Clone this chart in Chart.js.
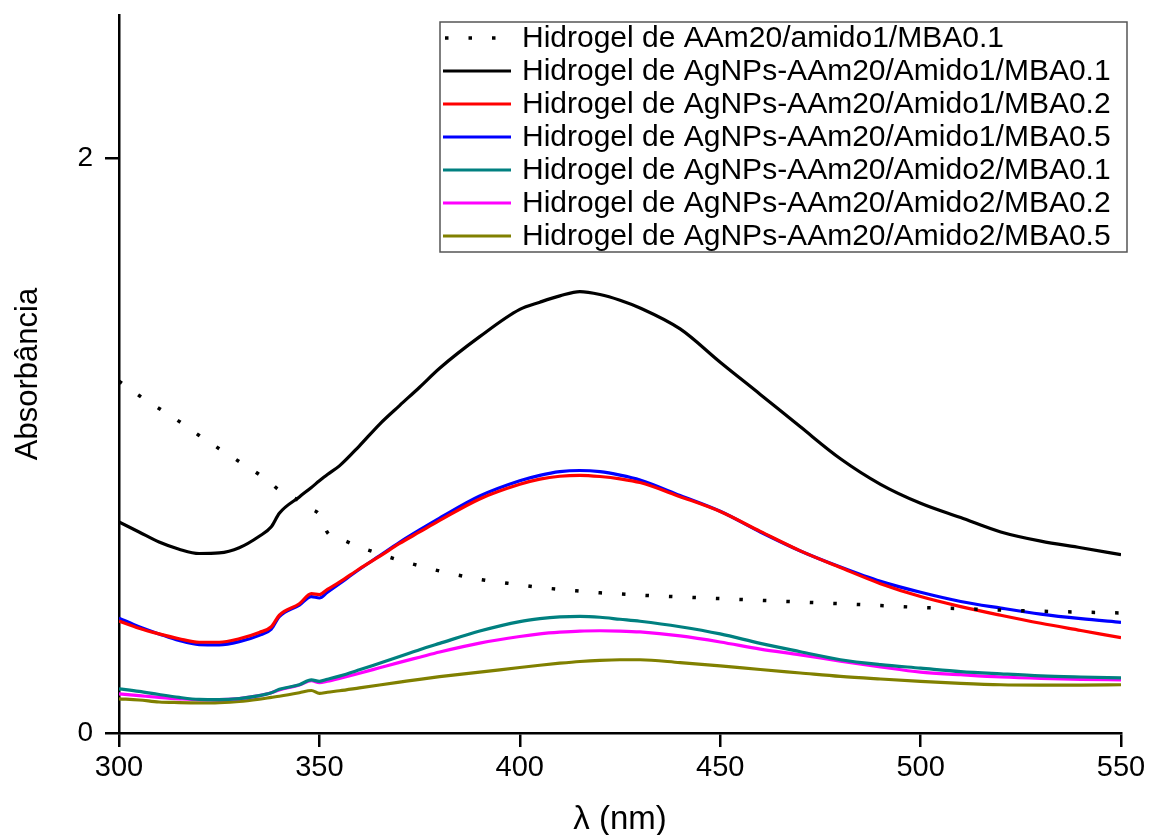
<!DOCTYPE html>
<html>
<head>
<meta charset="utf-8">
<script src="https://cdn.jsdelivr.net/npm/chart.js@4.4.1/dist/chart.umd.min.js"></script>
<style>
  html, body { margin: 0; padding: 0; background: #fff; }
  #wrap { width: 1150px; height: 835px; }
</style>
</head>
<body>
<div id="wrap"><canvas id="uvChart"></canvas></div>
<script>
// wavelength grid (nm)
const wavelengths = [300, 305, 310, 315, 320, 325, 330, 335, 338, 340, 345, 348, 350, 352, 355, 360, 365, 370, 375, 380,
  390, 400, 405, 410, 415, 420, 425, 430, 440, 450, 460, 470, 480, 490, 500, 510, 520, 530, 540, 550];

// absorbance
const aam20Amido1Mba01 = [1.225, 1.175, 1.13, 1.085, 1.036, 0.99, 0.945, 0.90, 0.868, 0.845, 0.808, 0.78, 0.76, 0.698, 0.678, 0.648, 0.624, 0.601, 0.582, 0.564,
  0.535, 0.516, 0.507, 0.50, 0.494, 0.488, 0.484, 0.480, 0.474, 0.468, 0.462, 0.456, 0.450, 0.444, 0.437, 0.433, 0.428, 0.424, 0.421, 0.418];
const agAmido1Mba01 = [0.735, 0.70, 0.665, 0.64, 0.625, 0.627, 0.645, 0.685, 0.718, 0.765, 0.822, 0.855, 0.878, 0.90, 0.93, 1.00, 1.075, 1.14, 1.204, 1.27,
  1.38, 1.475, 1.50, 1.522, 1.537, 1.527, 1.507, 1.48, 1.407, 1.291, 1.179, 1.066, 0.955, 0.866, 0.80, 0.75, 0.70, 0.668, 0.645, 0.621];
const agAmido1Mba02 = [0.39, 0.365, 0.345, 0.328, 0.316, 0.316, 0.328, 0.35, 0.37, 0.41, 0.45, 0.485, 0.482, 0.50, 0.525, 0.572, 0.615, 0.66, 0.70, 0.74,
  0.815, 0.866, 0.884, 0.894, 0.897, 0.893, 0.885, 0.872, 0.823, 0.771, 0.702, 0.634, 0.576, 0.52, 0.475, 0.44, 0.41, 0.382, 0.357, 0.332];
const agAmido1Mba05 = [0.40, 0.37, 0.345, 0.322, 0.308, 0.307, 0.318, 0.34, 0.362, 0.405, 0.445, 0.475, 0.47, 0.49, 0.52, 0.57, 0.617, 0.664, 0.707, 0.748,
  0.825, 0.878, 0.897, 0.910, 0.914, 0.910, 0.898, 0.881, 0.827, 0.772, 0.70, 0.634, 0.578, 0.528, 0.49, 0.458, 0.435, 0.414, 0.398, 0.385];
const agAmido2Mba01 = [0.154, 0.145, 0.134, 0.124, 0.117, 0.116, 0.12, 0.13, 0.14, 0.152, 0.168, 0.185, 0.18, 0.187, 0.198, 0.22, 0.243, 0.266, 0.29, 0.312,
  0.355, 0.388, 0.398, 0.404, 0.406, 0.403, 0.396, 0.389, 0.37, 0.345, 0.312, 0.283, 0.255, 0.238, 0.226, 0.214, 0.206, 0.199, 0.195, 0.192];
const agAmido2Mba02 = [0.136, 0.13, 0.124, 0.119, 0.116, 0.116, 0.12, 0.13, 0.14, 0.15, 0.167, 0.182, 0.175, 0.18, 0.19, 0.208, 0.227, 0.246, 0.264, 0.282,
  0.313, 0.336, 0.345, 0.351, 0.355, 0.356, 0.355, 0.352, 0.338, 0.317, 0.292, 0.272, 0.25, 0.23, 0.212, 0.203, 0.195, 0.19, 0.187, 0.185];
const agAmido2Mba05 = [0.119, 0.115, 0.108, 0.106, 0.105, 0.106, 0.11, 0.118, 0.124, 0.128, 0.14, 0.148, 0.138, 0.142, 0.147, 0.157, 0.167, 0.177, 0.187, 0.196,
  0.212, 0.228, 0.236, 0.243, 0.249, 0.253, 0.255, 0.255, 0.245, 0.234, 0.221, 0.209, 0.197, 0.188, 0.18, 0.173, 0.168, 0.167, 0.167, 0.168];

const seriesLabels = [
  'Hidrogel de AAm20/amido1/MBA0.1',
  'Hidrogel de AgNPs-AAm20/Amido1/MBA0.1',
  'Hidrogel de AgNPs-AAm20/Amido1/MBA0.2',
  'Hidrogel de AgNPs-AAm20/Amido1/MBA0.5',
  'Hidrogel de AgNPs-AAm20/Amido2/MBA0.1',
  'Hidrogel de AgNPs-AAm20/Amido2/MBA0.2',
  'Hidrogel de AgNPs-AAm20/Amido2/MBA0.5'
];
const seriesValues = [aam20Amido1Mba01, agAmido1Mba01, agAmido1Mba02, agAmido1Mba05, agAmido2Mba01, agAmido2Mba02, agAmido2Mba05];
const seriesColors = ['#000000', '#000000', '#ff0000', '#0000ff', '#008080', '#ff00ff', '#808000'];

const yTicks = [0, 2];
const FONT = '"Liberation Sans", Arial, sans-serif';

const toPoints = vals => vals.map((v, i) => ({ x: wavelengths[i], y: v }));

// boxed legend in the upper right, like the original
const boxLegend = {
  id: 'boxLegend',
  afterDraw(chart) {
    const ctx = chart.ctx;
    const sets = chart.data.datasets;
    const left = 440, top = 22, w = 687, h = 230, rowH = 33;
    ctx.save();
    ctx.fillStyle = '#fff';
    ctx.fillRect(left, top, w, h);
    ctx.strokeStyle = '#555';
    ctx.lineWidth = 1.5;
    ctx.strokeRect(left, top, w, h);
    ctx.font = '30px ' + FONT;
    ctx.textBaseline = 'middle';
    sets.forEach((ds, i) => {
      const y = top + 16 + i * rowH;
      ctx.strokeStyle = ds.borderColor;
      ctx.lineWidth = ds.borderWidth;
      ctx.setLineDash(ds.borderDash || []);
      ctx.lineDashOffset = i === 0 ? -2 : 0;
      ctx.beginPath();
      ctx.moveTo(443, y);
      ctx.lineTo(511, y);
      ctx.stroke();
      ctx.setLineDash([]);
      ctx.fillStyle = '#000';
      ctx.fillText(ds.label, 522, y + 1);
    });
    ctx.restore();
  }
};

new Chart(document.getElementById('uvChart'), {
  type: 'line',
  data: {
    datasets: seriesValues.map((vals, i) => ({
      label: seriesLabels[i],
      data: toPoints(vals),
      borderColor: seriesColors[i],
      borderWidth: i === 0 ? 3.5 : 3.2,
      borderDash: i === 0 ? [3.5, 20] : [],
      pointRadius: 0,
      fill: false,
      cubicInterpolationMode: 'monotone'
    }))
  },
  options: {
    responsive: true,
    maintainAspectRatio: false,
    animation: false,
    devicePixelRatio: 1,
    layout: { padding: { top: 15, right: 29, left: 0, bottom: 0 } },
    plugins: {
      legend: { display: false },
      tooltip: { enabled: false }
    },
    scales: {
      x: {
        type: 'linear',
        min: 300,
        max: 550,
        afterFit: s => { s.height = 102; s.paddingLeft = 0; s.paddingRight = 0; },
        ticks: { stepSize: 50, color: '#000', padding: 4, font: { family: FONT, size: 29 } },
        grid: { drawOnChartArea: false, color: '#000', lineWidth: 2.5, tickLength: 14 },
        border: { color: '#000', width: 2.5 },
        title: { display: true, text: 'λ (nm)', color: '#000', padding: { top: 0, bottom: 0 }, font: { family: FONT, size: 33, lineHeight: 0.9 } }
      },
      y: {
        min: 0,
        max: 2.5,
        afterFit: s => { s.width = 119; s.paddingTop = 0; s.paddingBottom = 0; },
        afterBuildTicks: s => { s.ticks = yTicks.map(v => ({ value: v })); },
        ticks: { color: '#000', padding: 12, font: { family: FONT, size: 28 } },
        grid: { drawOnChartArea: false, color: '#000', lineWidth: 2.5, tickLength: 14 },
        border: { color: '#000', width: 2.5 },
        title: { display: true, text: 'Absorbância', color: '#000', padding: { top: 10, bottom: 0 }, font: { family: FONT, size: 31 } }
      }
    }
  },
  plugins: [boxLegend]
});
</script>
</body>
</html>
